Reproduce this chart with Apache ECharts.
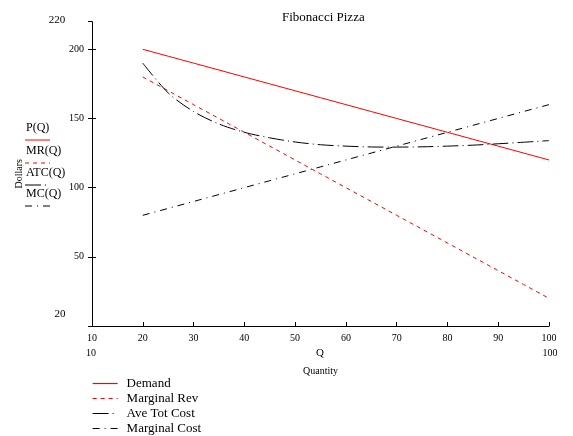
<!DOCTYPE html>
<html>
<head>
<meta charset="utf-8">
<script src="https://cdn.jsdelivr.net/npm/echarts@6/dist/echarts.min.js"></script>
<style>
html,body{margin:0;padding:0;background:#fff;}
#c{width:573px;height:436px;}
</style>
</head>
<body>
<div id="c"></div>
<script>
const quantity = [20,25,30,35,40,45,50,55,60,65,70,75,80,85,90,95,100];
const demand = [200,195,190,185,180,175,170,165,160,155,150,145,140,135,130,125,120];
const marginalRev = [180,170,160,150,140,130,120,110,100,90,80,70,60,50,40,30,20];
const aveTotCost = [190,168.5,155,146,140,136,133,131,130,129.4,129.3,129.5,130,130.7,131.7,132.8,134];
const marginalCost = [80,85,90,95,100,105,110,115,120,125,130,135,140,145,150,155,160];
const seriesNames = ['Demand','Marginal Rev','Ave Tot Cost','Marginal Cost'];
const shortNames = ['P(Q)','MR(Q)','ATC(Q)','MC(Q)'];
const yTicks = [50,100,150,200];

const FONT = "'Liberation Serif','Times New Roman',serif";
const styles = [
  {color:'#ff0000', type:'solid'},
  {color:'#ff0000', type:[4,4]},
  {color:'#000000', type:[16,4,1,4]},
  {color:'#000000', type:[7,5,1,5]}
];
const values = [demand, marginalRev, aveTotCost, marginalCost];

const chart = echarts.init(document.getElementById('c'), null, {renderer:'canvas'});

const series = values.map((arr, i) => ({
  name: seriesNames[i],
  type: 'line',
  symbol: 'none',
  showSymbol: false,
  smooth: i === 2 ? 0.3 : false,
  animation: false,
  data: quantity.map((q, k) => [q, arr[k]]),
  lineStyle: {width: 1, color: styles[i].color, type: styles[i].type},
  itemStyle: {color: styles[i].color}
}));

const graphics = [];
const txt = (x, y, s, size, align) => graphics.push({
  type:'text', x:x, y:y,
  style:{text:s, font: size + 'px ' + FONT, fill:'#000', align: align || 'center', verticalAlign:'middle'}
});
txt(57, 20, '220', 11);
txt(60, 314, '20', 11);
txt(91, 353, '10', 10);
txt(320, 353, 'Q', 11);
txt(550, 353, '100', 10);
const legY = [128, 151, 173, 194];
shortNames.forEach((n, i) => {
  txt(26, legY[i], n, 12, 'left');
  graphics.push({
    type:'line',
    shape:{x1:25, y1:legY[i]+12, x2:50, y2:legY[i]+12},
    style:{stroke: styles[i].color, lineWidth:1, lineDash: styles[i].type === 'solid' ? null : styles[i].type}
  });
});

chart.setOption({
  animation:false,
  backgroundColor:'#fff',
  title:{
    text:'Fibonacci Pizza', left:277, top:6,
    textStyle:{fontFamily:FONT, fontSize:13, fontWeight:'normal', color:'#000'}
  },
  grid:{left:92, right:24, top:21.6, bottom:110, containLabel:false},
  legend:{
    data: seriesNames,
    orient:'vertical', left:87, top:372, height:80,
    itemWidth:25, itemHeight:10, itemGap:2,
    itemStyle:{color:'transparent', borderColor:'transparent', borderWidth:0},
    lineStyle:{width:1.2},
    textStyle:{fontFamily:FONT, fontSize:13, color:'#000', padding:[0,0,0,4]},
    selectedMode:false
  },
  xAxis:[{
    type:'value', min:10, max:100, interval:10,
    name:'Quantity', nameLocation:'middle', nameGap:40,
    nameTextStyle:{fontFamily:FONT, fontSize:10, color:'#000'},
    axisLine:{show:true, onZero:false, lineStyle:{color:'#000', width:1}},
    axisTick:{show:true, inside:true, length:4, lineStyle:{color:'#000'}},
    axisLabel:{fontFamily:FONT, fontSize:10, color:'#000', margin:7},
    splitLine:{show:false}
  }],
  yAxis:[{
    type:'value', min:0, max:220, interval:50,
    name:'Dollars', nameLocation:'middle', nameGap:68, nameRotate:90,
    nameTextStyle:{fontFamily:FONT, fontSize:10, color:'#000'},
    axisLine:{show:true, onZero:false, lineStyle:{color:'#000', width:1}},
    axisTick:{show:true, inside:false, length:4, lineStyle:{color:'#000'}},
    axisLabel:{fontFamily:FONT, fontSize:10, color:'#000', margin:8, customValues: yTicks},
    splitLine:{show:false}
  },{
    type:'value', min:0, max:220, interval:50, position:'left', offset:0,
    axisLine:{show:false},
    axisTick:{show:true, inside:true, length:4, lineStyle:{color:'#000'}, customValues: yTicks},
    axisLabel:{show:false},
    splitLine:{show:false}
  }],
  graphic: graphics,
  series: series
});
</script>
</body>
</html>
